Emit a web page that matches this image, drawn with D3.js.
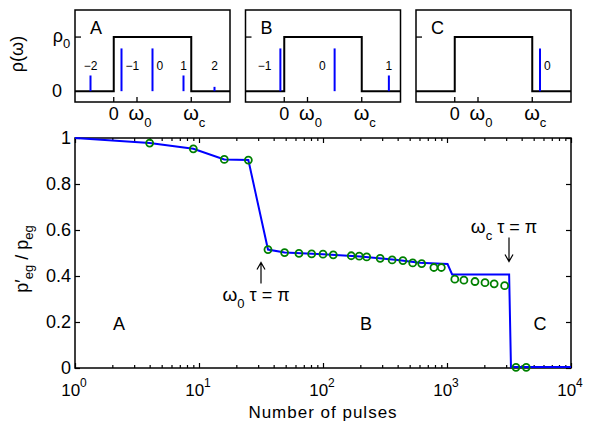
<!DOCTYPE html>
<html>
<head>
<meta charset="utf-8">
<script src="https://cdn.jsdelivr.net/npm/d3@7"></script>
<style>
body { margin: 0; background: #fff; }
svg { font-family: "Liberation Sans", Arial, sans-serif; display: block; }
</style>
</head>
<body>
<svg></svg>
<script>

// measured points (green circles)
const pulses = [4, 9, 16, 25, 36, 49, 64, 81, 100, 121, 169, 196, 225, 289, 361,
    441, 529, 625, 784, 900, 1156, 1369, 1681, 2025, 2401, 2916, 3600, 4356];
const ratio = [0.978, 0.953, 0.907, 0.904, 0.515, 0.502, 0.498, 0.496, 0.495, 0.492,
    0.488, 0.486, 0.483, 0.477, 0.470, 0.467, 0.457, 0.454, 0.437, 0.437,
    0.386, 0.382, 0.376, 0.371, 0.366, 0.358, 0.003, 0.003];

// theory curve (blue line)
const theoryPulses = [1, 4, 9, 16, 25, 36, 49, 100, 200, 400, 600, 1010, 1100, 3170, 3280, 10000];
const theoryRatio = [1, 0.978, 0.953, 0.907, 0.904, 0.515, 0.502, 0.495, 0.485, 0.470,
    0.458, 0.452, 0.407, 0.407, 0.004, 0.004];

const yTicks = [0, 0.2, 0.4, 0.6, 0.8, 1];
const xPowers = [0, 1, 2, 3, 4];

// annotations
const regionNames = ["A", "B", "C"];
const regionN = [2.26, 222, 5620];
const arrowN = [Math.pow(10, 1.5), Math.pow(10, 3.5)];

// insets: spectrum rho(omega), omega in units of omega_c
const omegaDomain = [-0.5, 1.5];
const bandEdges = [0, 1];
const omegaTicks = [0, 0.3, 1];
const omegaTickSubs = ["", "0", "c"];
const stemPos = [[-0.3, 0.1, 0.5, 0.9, 1.3], [-0.05, 0.65, 1.35], [1.1]];
const stemHeight = [[0.29, 0.79, 0.79, 0.29, 0.08], [0.79, 0.79, 0.29], [0.79]];
const stemLabels = [["\u22122", "\u22121", "0", "1", "2"], ["\u22121", "0", "1"], ["0"]];
const stemSide = [["mid", "right", "right", "mid", "mid"], ["left", "left", "mid"], ["right"]];

const svgWidth = 592;
const svgHeight = 422;

const svg = d3.select("svg")
    .attr("width", svgWidth)
    .attr("height", svgHeight);

const margin = {top: 138, right: 21, bottom: 54, left: 75};
const width = svgWidth - margin.left - margin.right;
const height = svgHeight - margin.top - margin.bottom;

const x = d3.scaleLog().domain([1, 1e4]).range([0, width]);
const y = d3.scaleLinear().domain([0, 1]).range([height, 0]);

const g = svg.append("g")
    .attr("transform", "translate(" + margin.left + "," + margin.top + ")");

const majors = xPowers.map(p => Math.pow(10, p));
const minors = x.ticks().filter(t => !majors.some(m => Math.abs(m - t) < 1e-9));

function styleAxis(sel) {
    sel.select(".domain").remove();
    sel.selectAll("line").attr("stroke", "#000").attr("stroke-width", 1.2);
    sel.attr("font-size", 18).attr("font-family", null);
    sel.selectAll("text").attr("fill", "#000");
}

// bottom and top ticks
[["bottom", height], ["top", 0]].forEach(([side, ty]) => {
    const mk = side === "bottom" ? d3.axisBottom : d3.axisTop;
    g.append("g").attr("transform", "translate(0," + ty + ")")
        .call(mk(x).tickValues(majors).tickSizeInner(-5).tickSizeOuter(0).tickFormat(""))
        .call(styleAxis);
    g.append("g").attr("transform", "translate(0," + ty + ")")
        .call(mk(x).tickValues(minors).tickSizeInner(-3).tickSizeOuter(0).tickFormat(""))
        .call(styleAxis);
});

// x tick labels 10^n
const xl = g.append("g").attr("font-size", 17);
xPowers.forEach(p => {
    const t = xl.append("text")
        .attr("x", x(Math.pow(10, p)) - 1)
        .attr("y", height + 28)
        .attr("text-anchor", "middle");
    t.append("tspan").text("10");
    t.append("tspan").attr("font-size", 12).attr("dy", -9).text(p);
});

g.append("g")
    .call(d3.axisLeft(y).tickValues(yTicks).tickSizeInner(-5).tickSizeOuter(0)
        .tickPadding(4).tickFormat(d3.format("~g")))
    .call(styleAxis);

g.append("g").attr("transform", "translate(" + width + ",0)")
    .call(d3.axisRight(y).tickValues(yTicks).tickSizeInner(-5).tickSizeOuter(0).tickFormat(""))
    .call(styleAxis);

g.append("rect")
    .attr("width", width).attr("height", height)
    .attr("fill", "none").attr("stroke", "#000").attr("stroke-width", 1.5);

// theory line
const line = d3.line().x(d => x(d[0])).y(d => y(d[1]));
g.append("path")
    .datum(theoryPulses.map((n, i) => [n, theoryRatio[i]]))
    .attr("d", line)
    .attr("fill", "none")
    .attr("stroke", "#0000ff")
    .attr("stroke-width", 2);

g.selectAll(".pt")
    .data(pulses)
    .enter()
    .append("circle")
    .attr("class", "pt")
    .attr("cx", d => x(d))
    .attr("cy", (d, i) => y(ratio[i]))
    .attr("r", 3.5)
    .attr("fill", "none")
    .attr("stroke", "#008000")
    .attr("stroke-width", 1.8);

// region labels
g.selectAll(".region")
    .data(regionNames)
    .enter()
    .append("text")
    .attr("x", (d, i) => x(regionN[i]))
    .attr("y", y(0.165))
    .attr("text-anchor", "middle")
    .attr("font-size", 18)
    .text(d => d);

// arrows
function arrow(xp, y1, y2) {
    const dir = y2 < y1 ? 1 : -1;
    g.append("path")
        .attr("d", "M" + xp + "," + y1 + "L" + xp + "," + y2 +
            "M" + (xp - 4) + "," + (y2 + dir * 7) + "L" + xp + "," + y2 + "L" + (xp + 4) + "," + (y2 + dir * 7))
        .attr("fill", "none").attr("stroke", "#000").attr("stroke-width", 1.2);
}
function omegaTau(xp, yp, sub) {
    const t = g.append("text").attr("x", xp).attr("y", yp)
        .attr("text-anchor", "middle").attr("font-size", 18);
    t.append("tspan").attr("font-size", 19).text("\u03c9");
    t.append("tspan").attr("font-size", 13).attr("dy", 7).text(sub);
    t.append("tspan").attr("dy", -7).text(" \u03c4 = \u03c0");
}
arrow(x(arrowN[0]), y(0.367), y(0.459));
omegaTau(x(arrowN[0]) - 5, y(0.29), "0");
arrow(x(arrowN[1]), y(0.567), y(0.463));
omegaTau(x(arrowN[1]) - 5, y(0.588), "c");

// y label
const yl = svg.append("text")
    .attr("transform", "translate(28," + (margin.top + height / 2 + 6) + ") rotate(-90)")
    .attr("text-anchor", "middle")
    .attr("font-size", 18);
yl.append("tspan").text("p\u2032");
yl.append("tspan").attr("font-size", 13).attr("dy", 5).text("eg");
yl.append("tspan").attr("dy", -5).text(" / p");
yl.append("tspan").attr("font-size", 13).attr("dy", 5).text("eg");

svg.append("text")
    .attr("x", margin.left + width / 2)
    .attr("y", 418)
    .attr("text-anchor", "middle")
    .attr("font-size", 17)
    .attr("letter-spacing", 1)
    .text("Number of pulses");

// insets
const insetW = 155, insetH = 92, insetTop = 10, insetGap = 15.5;
const wx = d3.scaleLinear().domain(omegaDomain).range([0, insetW]);
const ry = d3.scaleLinear().domain([-0.2, 1.5]).range([insetH, 0]);

const rho = [[omegaDomain[0], 0], [bandEdges[0], 0], [bandEdges[0], 1],
    [bandEdges[1], 1], [bandEdges[1], 0], [omegaDomain[1], 0]];
const rhoLine = d3.line().x(d => wx(d[0])).y(d => ry(d[1]));

regionNames.forEach((name, k) => {
    const p = svg.append("g")
        .attr("transform", "translate(" + (margin.left + k * (insetW + insetGap)) + "," + insetTop + ")");

    p.append("path").datum(rho).attr("d", rhoLine)
        .attr("fill", "none").attr("stroke", "#000").attr("stroke-width", 2);

    p.selectAll(".stem")
        .data(stemPos[k])
        .enter()
        .append("line")
        .attr("x1", d => wx(d)).attr("x2", d => wx(d))
        .attr("y1", ry(0)).attr("y2", (d, i) => ry(stemHeight[k][i]))
        .attr("stroke", "#0000ff").attr("stroke-width", 2);

    p.selectAll(".slab")
        .data(stemLabels[k])
        .enter()
        .append("text")
        .attr("font-size", 12)
        .attr("y", ry(0.4))
        .attr("x", (d, i) => wx(stemPos[k][i]) + (stemSide[k][i] === "right" ? 4 : stemSide[k][i] === "left" ? -9 : 0))
        .attr("text-anchor", (d, i) => stemSide[k][i] === "right" ? "start" : stemSide[k][i] === "left" ? "end" : "middle")
        .text(d => d);

    // ticks
    p.selectAll(".xt")
        .data(omegaTicks)
        .enter()
        .append("line")
        .attr("x1", d => wx(d)).attr("x2", d => wx(d))
        .attr("y1", insetH).attr("y2", insetH - 5)
        .attr("stroke", "#000").attr("stroke-width", 1.3);
    p.append("line")
        .attr("x1", 0).attr("x2", 6).attr("y1", ry(1)).attr("y2", ry(1))
        .attr("stroke", "#000").attr("stroke-width", 1.3);

    omegaTicks.forEach((w, i) => {
        const t = p.append("text").attr("x", wx(w) + (i ? 3 : 0)).attr("y", insetH + 18)
            .attr("text-anchor", "middle").attr("font-size", 18);
        t.append("tspan").attr("font-size", i ? 20 : 18).text(i ? "\u03c9" : "0");
        if (omegaTickSubs[i]) t.append("tspan").attr("font-size", 13).attr("dy", 7).text(omegaTickSubs[i]);
    });

    p.append("rect").attr("width", insetW).attr("height", insetH)
        .attr("fill", "none").attr("stroke", "#000").attr("stroke-width", 1.5);

    p.append("text").attr("x", 15).attr("y", 24).attr("font-size", 18).text(name);

    if (k === 0) {
        p.append("text").attr("x", -12).attr("y", ry(1) + 5)
            .attr("text-anchor", "end").attr("font-size", 18).text("\u03c1");
        p.append("text").attr("x", -12).attr("y", ry(1) + 11).attr("font-size", 13).text("0");
        p.append("text").attr("x", -13).attr("y", ry(0) + 6)
            .attr("text-anchor", "end").attr("font-size", 18).text("0");
        p.append("text")
            .attr("transform", "translate(" + (-52) + "," + (insetH / 2 - 2) + ") rotate(-90)")
            .attr("text-anchor", "middle").attr("font-size", 18)
            .text("\u03c1(\u03c9)");
    }
});

</script>
</body>
</html>
